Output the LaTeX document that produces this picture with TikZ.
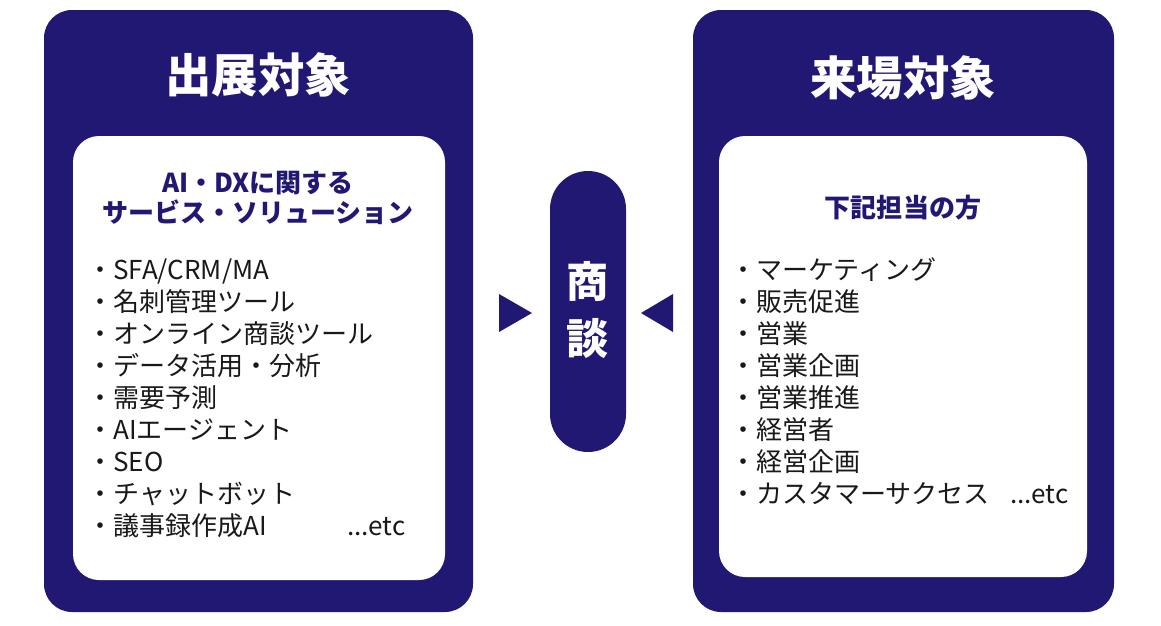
\documentclass[tikz,border=0pt]{standalone}
\usepackage{fontspec}
\setmainfont{Noto Sans CJK JP}
\usetikzlibrary{calc}
\definecolor{navy}{RGB}{33,24,116}

\begin{document}
\begin{tikzpicture}[
    x=0.025cm, y=-0.025cm,
    panel/.style={fill=navy, rounded corners=0.7cm},
    card/.style={fill=white, rounded corners=0.65cm},
    title/.style={text=white, inner sep=0pt, font=\bfseries\fontsize{33}{40}\selectfont},
    head/.style={text=navy, inner sep=0pt, align=center, font=\bfseries\fontsize{18.5}{21.3}\selectfont},
    item/.style={anchor=west, inner sep=0pt, text height=16.3pt, text depth=2.2pt,
      text=black!90, font=\fontsize{18.5}{22}\selectfont}
  ]
  \useasboundingbox (0,0) rectangle (1161,625);

  \def\Gap{32}

  % left panel: exhibitors
  \fill[panel] (44,10) rectangle (473,612);
  \fill[card] (73,136) rectangle (445,580);
  \node[title] (exhibit) at (258,75) {出展対象};
  \node[head] (exhibitHead) at (258,198) {AI・DXに関する\\サービス・ソリューション};
  \foreach \txt [count=\i from 0] in {SFA/CRM/MA, 名刺管理ツール, オンライン商談ツール,
      データ活用・分析, 需要予測, AIエージェント, SEO, チャットボット, 議事録作成AI}
    \node[item] (ex\i) at (87,{270+\Gap*\i}) {・\txt};
  \node[item] (exEtc) at (347,526) {...etc};

  % centre: meeting
  \fill[navy, rounded corners=0.95cm] (550,171) rectangle (626,452);
  \node[text=white, inner sep=0pt, align=center,
    font=\bfseries\fontsize{30}{40.5}\selectfont] (meet) at (588,310) {商\\談};
  \fill[navy] (499,294) -- (532,313) -- (499,332) -- cycle;
  \fill[navy] (673,294) -- (641,313) -- (673,332) -- cycle;

  % right panel: visitors
  \fill[panel] (693,10) rectangle (1114,612);
  \fill[card] (719,136) rectangle (1087,577);
  \node[title] (visit) at (903,78) {来場対象};
  \node[head] (visitHead) at (903,208) {下記担当の方};
  \foreach \txt [count=\i from 0] in {マーケティング, 販売促進, 営業, 営業企画, 営業推進,
      経営者, 経営企画, カスタマーサクセス}
    \node[item] (vi\i) at (730,{270+\Gap*\i}) {・\txt};
  \node[item] (viEtc) at (1010,494) {...etc};

\end{tikzpicture}
\end{document}
